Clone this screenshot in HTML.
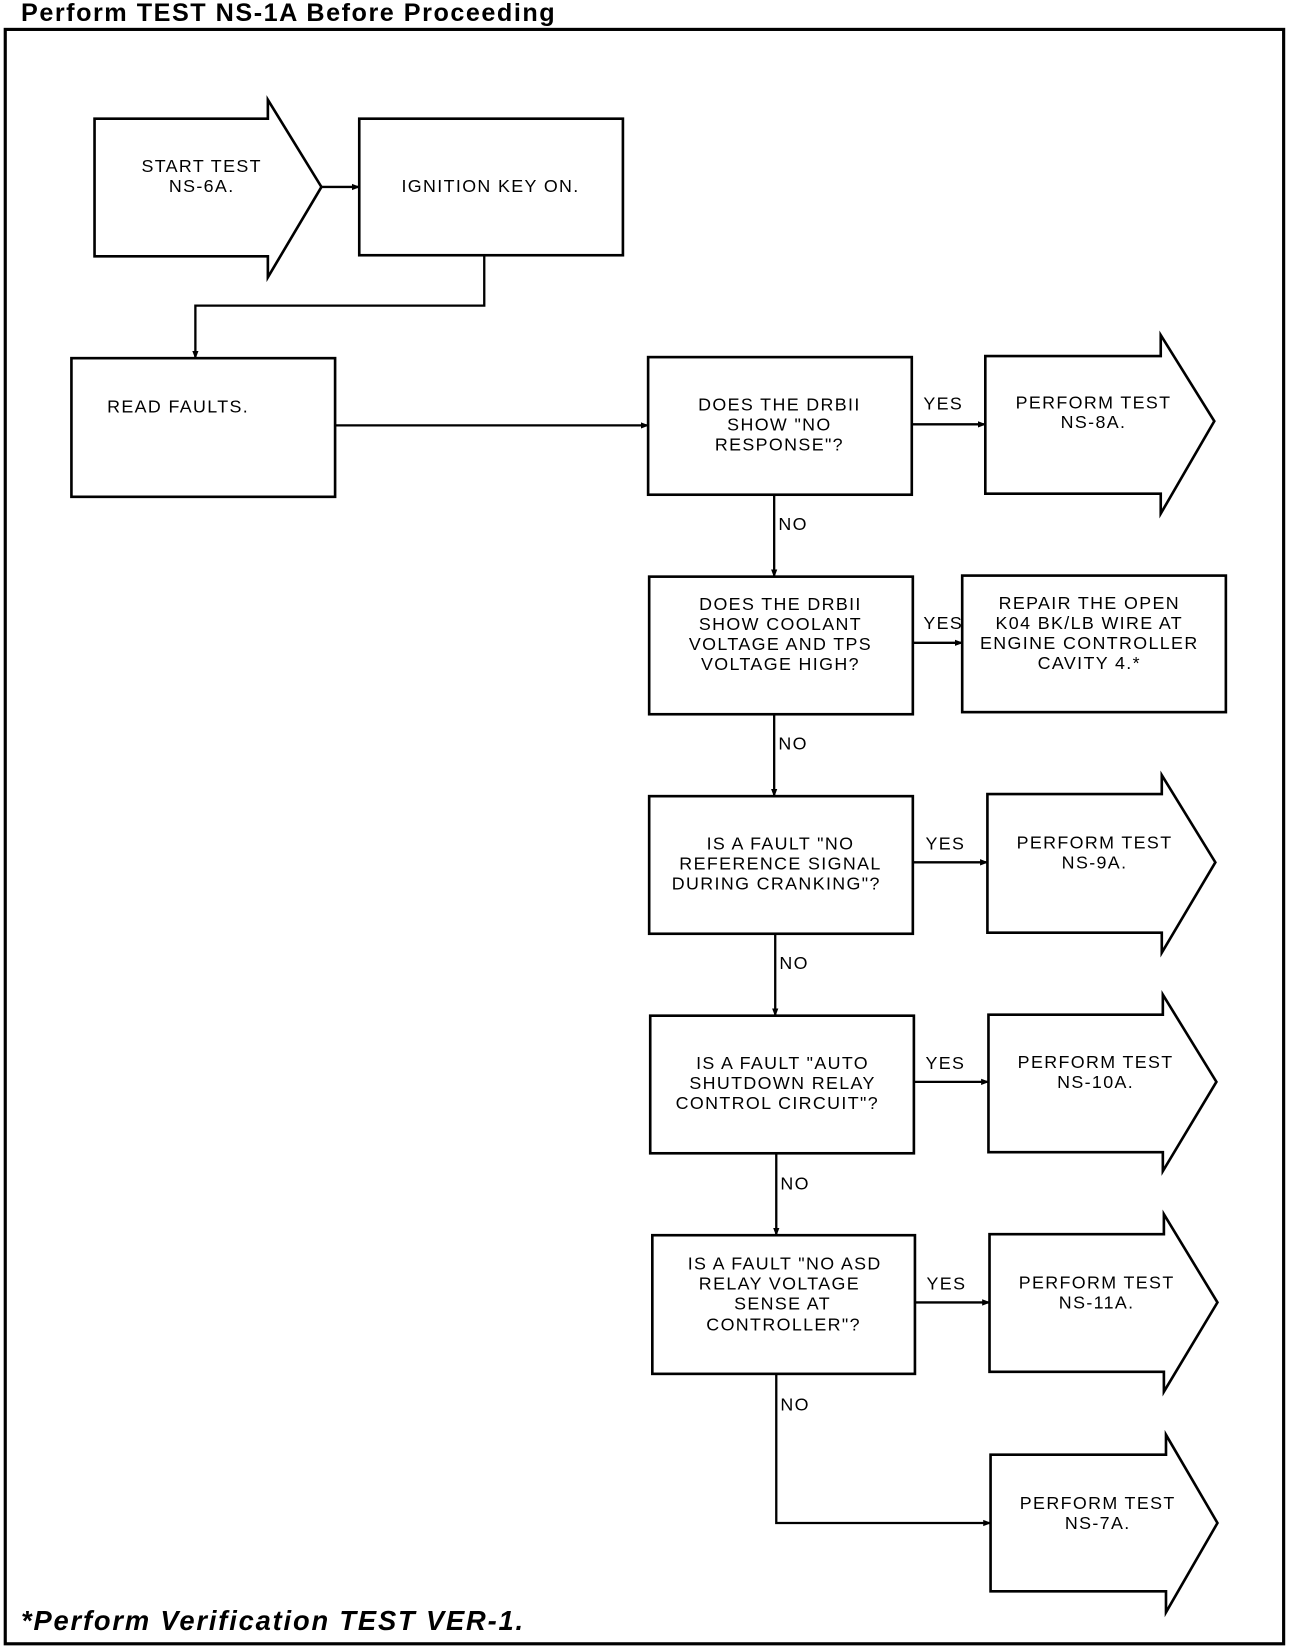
<!DOCTYPE html>
<html><head><meta charset="utf-8"><style>
html,body{margin:0;padding:0;background:#fff;}
svg{display:block;}
.t{font-family:"Liberation Sans",sans-serif;font-size:17px;letter-spacing:1.3px;fill:#000;text-anchor:middle;dominant-baseline:central;}
.l{text-anchor:start;}
</style></head><body>
<svg width="1312" height="1648" viewBox="0 0 1249 1569" preserveAspectRatio="none" xmlns="http://www.w3.org/2000/svg">
<defs><marker id="a" markerWidth="8" markerHeight="8" refX="7" refY="4" orient="auto" markerUnits="userSpaceOnUse"><path d="M0,1 L8,4 L0,7 z" fill="#000"/></marker></defs>
<text x="20" y="20" style="font-family:'Liberation Sans',sans-serif;font-weight:bold;font-size:24px" textLength="508">Perform TEST NS-1A Before Proceeding</text>
<rect x="5" y="28" width="1217" height="1537" fill="none" stroke="#000" stroke-width="3"/>
<g fill="none" stroke="#000" stroke-width="2.5">
<path d="M90,113 H255 V95 L306,178 L255,264 V244 H90 Z"/>
<rect x="342" y="113" width="251" height="130"/>
<rect x="68" y="341" width="251" height="132"/>
<rect x="617" y="340" width="251" height="131"/>
<path d="M938,339 H1105 V319 L1156,401 L1105,489 V470 H938 Z"/>
<rect x="618" y="549" width="251" height="131"/>
<rect x="916" y="548" width="251" height="130"/>
<rect x="618" y="758" width="251" height="131"/>
<path d="M940,756 H1106 V738 L1157,821 L1106,907 V888 H940 Z"/>
<rect x="619" y="967" width="251" height="131"/>
<path d="M941,966 H1107 V947 L1158,1030 L1107,1115 V1097 H941 Z"/>
<rect x="621" y="1176" width="250" height="132"/>
<path d="M942,1175 H1108 V1156 L1159,1240 L1108,1325 V1306 H942 Z"/>
<path d="M943,1385 H1110 V1366 L1159,1450 L1110,1535 V1515 H943 Z"/>
</g>
<g fill="none" stroke="#000" stroke-width="2.2" marker-end="url(#a)">
<path d="M306,178 H342"/>
<path d="M461,243 V291 H186 V341"/>
<path d="M319,405 H617"/>
<path d="M868,404 H938"/>
<path d="M737,471 V549"/>
<path d="M869,612 H916"/>
<path d="M737,680 V758"/>
<path d="M869,821 H940"/>
<path d="M738,889 V967"/>
<path d="M870,1030 H941"/>
<path d="M739,1098 V1176"/>
<path d="M871,1240 H942"/>
<path d="M739,1308 V1450 H943"/>
</g>
<text class="t" x="192" y="158">START TEST</text>
<text class="t" x="192" y="177">NS-6A.</text>
<text class="t" x="467" y="177">IGNITION KEY ON.</text>
<text class="t l" x="102" y="387">READ FAULTS.</text>
<text class="t" x="742" y="385">DOES THE DRBII</text>
<text class="t" x="742" y="404">SHOW "NO</text>
<text class="t" x="742" y="423">RESPONSE"?</text>
<text class="t" x="898" y="384">YES</text>
<text class="t" x="1041" y="383">PERFORM TEST</text>
<text class="t" x="1041" y="402">NS-8A.</text>
<text class="t" x="755" y="499">NO</text>
<text class="t" x="743" y="575">DOES THE DRBII</text>
<text class="t" x="743" y="594">SHOW COOLANT</text>
<text class="t" x="743" y="613">VOLTAGE AND TPS</text>
<text class="t" x="743" y="632">VOLTAGE HIGH?</text>
<text class="t" x="898" y="593">YES</text>
<text class="t" x="1037" y="574">REPAIR THE OPEN</text>
<text class="t" x="1037" y="593">K04 BK/LB WIRE AT</text>
<text class="t" x="1037" y="612">ENGINE CONTROLLER</text>
<text class="t" x="1037" y="631">CAVITY 4.*</text>
<text class="t" x="755" y="708">NO</text>
<text class="t" x="743" y="803">IS A FAULT "NO</text>
<text class="t" x="743" y="822">REFERENCE SIGNAL</text>
<text class="t" x="739" y="841">DURING CRANKING"?</text>
<text class="t" x="900" y="803">YES</text>
<text class="t" x="1042" y="802">PERFORM TEST</text>
<text class="t" x="1042" y="821">NS-9A.</text>
<text class="t" x="756" y="917">NO</text>
<text class="t" x="745" y="1012">IS A FAULT "AUTO</text>
<text class="t" x="745" y="1031">SHUTDOWN RELAY</text>
<text class="t" x="740" y="1050">CONTROL CIRCUIT"?</text>
<text class="t" x="900" y="1012">YES</text>
<text class="t" x="1043" y="1011">PERFORM TEST</text>
<text class="t" x="1043" y="1030">NS-10A.</text>
<text class="t" x="757" y="1127">NO</text>
<text class="t" x="747" y="1203">IS A FAULT "NO ASD</text>
<text class="t" x="742" y="1222">RELAY VOLTAGE</text>
<text class="t" x="745" y="1241">SENSE AT</text>
<text class="t" x="746" y="1261">CONTROLLER"?</text>
<text class="t" x="901" y="1222">YES</text>
<text class="t" x="1044" y="1221">PERFORM TEST</text>
<text class="t" x="1044" y="1240">NS-11A.</text>
<text class="t" x="757" y="1337">NO</text>
<text class="t" x="1045" y="1431">PERFORM TEST</text>
<text class="t" x="1045" y="1450">NS-7A.</text>
<text x="20" y="1552" style="font-family:'Liberation Sans',sans-serif;font-weight:bold;font-style:italic;font-size:26px" textLength="478">*Perform Verification TEST VER-1.</text>
</svg>
</body></html>
